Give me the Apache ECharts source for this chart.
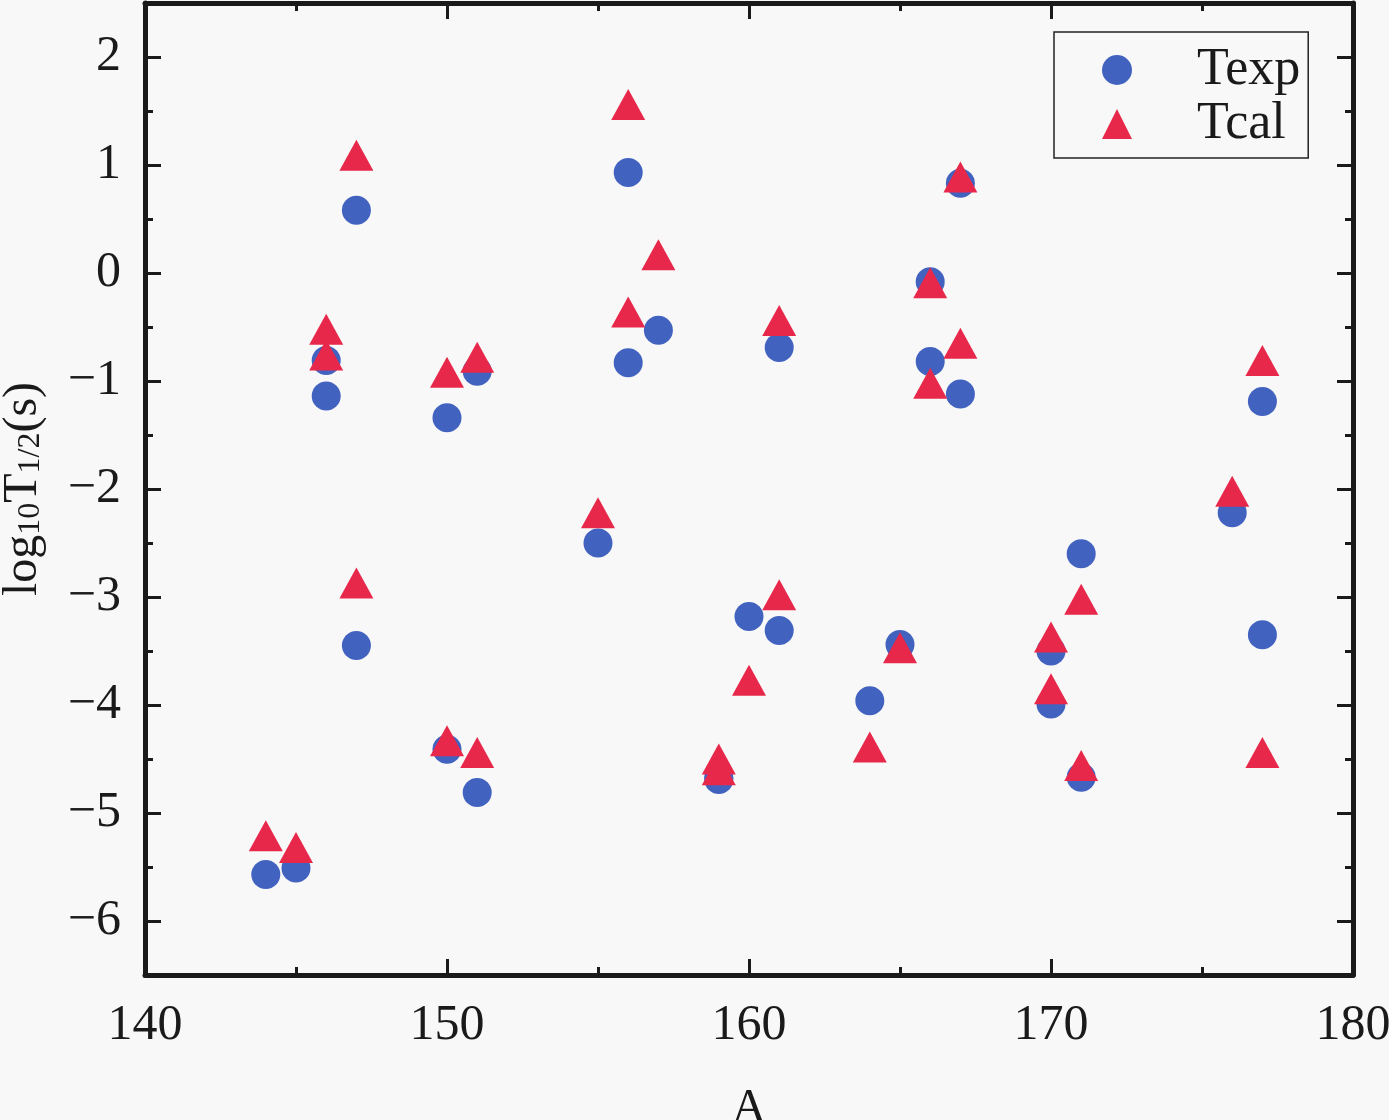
<!DOCTYPE html>
<html>
<head>
<meta charset="utf-8">
<script src="https://cdn.jsdelivr.net/npm/echarts@6/dist/echarts.min.js"></script>
<style>
	html, body { margin: 0; padding: 0; background: #f8f8f8; }
	#chart { width: 1389px; height: 1120px; }
</style>
</head>
<body>
<div id="chart"></div>
<script>
// 数据：质量数 A，实验与计算半衰期 log10T1/2
var massNumbers = [144,145,146,146,147,147,150,150,151,151,155,156,156,157,159,159,160,161,161,164,165,166,166,167,167,170,170,171,171,176,177,177];
var texpValues  = [-5.57,-5.51,-0.81,-1.14,0.58,-3.45,-1.34,-4.41,-0.91,-4.81,-2.50,0.93,-0.83,-0.53,-4.69,-4.67,-3.18,-0.69,-3.31,-3.96,-3.44,-0.08,-0.82,0.83,-1.12,-3.50,-3.99,-2.60,-4.67,-2.22,-1.19,-3.35];
var tcalValues  = [-5.21,-5.32,-0.52,-0.76,1.09,-2.87,-0.92,-4.33,-0.78,-4.44,-2.22,1.56,-0.36,0.17,-4.50,-4.60,-3.77,-0.44,-2.98,-4.39,-3.47,-0.09,-1.02,0.89,-0.65,-3.37,-3.85,-3.02,-4.56,-2.02,-0.81,-4.44];
var yMajorTicks = [-6,-5,-4,-3,-2,-1,0,1,2];
var yMinorTicks = [-6.5,-5.5,-4.5,-3.5,-2.5,-1.5,-0.5,0.5,1.5,2.5];

var fontName = 'Liberation Serif';
var lineColor = '#1a1a1a';

var pairUp = function(xs, ys){
	var out = [];
	for (var i = 0; i < xs.length; i++) {
		out.push([xs[i], ys[i]]);
	}
	return out;
};

var chart = echarts.init(document.getElementById('chart'));

var xAxisBase = function(pos, showLabel){
	return {
		type: 'value',
		position: pos,
		min: 140,
		max: 180,
		interval: 10,
		axisLine: { show: true, onZero: false, lineStyle: { color: lineColor, width: 5 } },
		axisTick: { show: true, inside: true, length: 16, lineStyle: { color: lineColor, width: 3 } },
		minorTick: { show: true, splitNumber: 2, length: 8, lineStyle: { color: lineColor, width: 3 } },
		splitLine: { show: false },
		axisLabel: { show: showLabel, margin: 26, color: '#1a1a1a', fontFamily: fontName, fontSize: 50 }
	};
};

var yAxisBase = function(pos, ticks, len, showLine, showLabel){
	return {
		type: 'value',
		position: pos,
		min: -6.5,
		max: 2.5,
		axisLine: { show: showLine, onZero: false, lineStyle: { color: lineColor, width: 5 } },
		axisTick: { show: true, inside: true, length: len, customValues: ticks, lineStyle: { color: lineColor, width: 3 } },
		splitLine: { show: false },
		axisLabel: {
			show: showLabel,
			customValues: yMajorTicks,
			margin: 24,
			color: '#1a1a1a',
			fontFamily: fontName,
			fontSize: 50,
			formatter: function(v){ return String(v).replace('-', '\u2212'); }
		}
	};
};

var yLeft = yAxisBase('left', yMajorTicks, 16, true, true);
yLeft.name = '{a|log}{b|10}{a|T}{b|1/2}{a|(s)}';
yLeft.nameLocation = 'middle';
yLeft.nameRotate = 90;
yLeft.nameGap = 98;
yLeft.nameTextStyle = {
	rich: {
		a: { fontFamily: fontName, fontSize: 48, color: '#1a1a1a', lineHeight: 50, verticalAlign: 'bottom' },
		b: { fontFamily: fontName, fontSize: 32, color: '#1a1a1a', lineHeight: 22, verticalAlign: 'bottom' }
	}
};

var xBottom = xAxisBase('bottom', true);
xBottom.name = 'A';
xBottom.nameLocation = 'middle';
xBottom.nameGap = 110;
xBottom.nameTextStyle = { fontFamily: fontName, fontSize: 48, color: '#1a1a1a' };

var option = {
	backgroundColor: '#f8f8f8',
	animation: false,
	grid: { left: 145, right: 36, top: 3, bottom: 145, containLabel: false, outerBoundsMode: 'none' },
	legend: {
		orient: 'vertical',
		left: 1054,
		top: 32,
		padding: [12, 8, 8, 48],
		itemWidth: 30,
		itemHeight: 30,
		itemGap: 2,
		borderColor: '#222',
		borderWidth: 1.5,
		textStyle: { fontFamily: fontName, fontSize: 52, color: '#1a1a1a', padding: [0, 0, 0, 60] },
		data: ['Texp', 'Tcal']
	},
	xAxis: [ xBottom, xAxisBase('top', false) ],
	yAxis: [
		yLeft,
		yAxisBase('left', yMinorTicks, 8, false, false),
		yAxisBase('right', yMajorTicks, 16, true, false),
		yAxisBase('right', yMinorTicks, 8, false, false)
	],
	series: [
		{
			name: 'Texp',
			type: 'scatter',
			symbol: 'circle',
			symbolSize: 29,
			itemStyle: { color: '#4262c0', opacity: 1 },
			data: pairUp(massNumbers, texpValues)
		},
		{
			name: 'Tcal',
			type: 'scatter',
			symbol: 'triangle',
			symbolSize: [34, 31],
			itemStyle: { color: '#e8284a', opacity: 1 },
			data: pairUp(massNumbers, tcalValues)
		}
	]
};
chart.setOption(option);
</script>
</body>
</html>
